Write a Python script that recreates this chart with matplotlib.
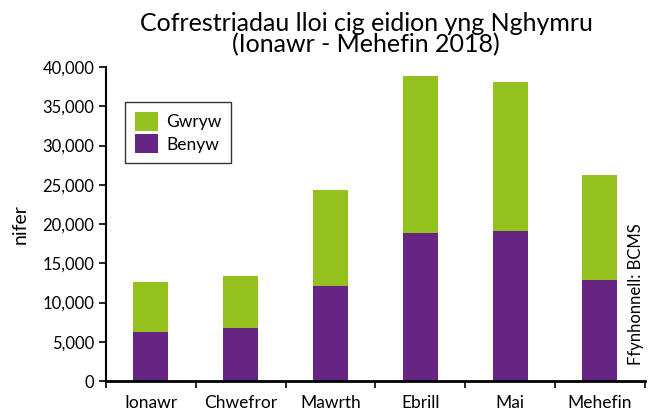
import matplotlib.pyplot as plt
import numpy as np
from matplotlib.ticker import FuncFormatter, FixedLocator

# data
months = ['Ionawr', 'Chwefror', 'Mawrth', 'Ebrill', 'Mai', 'Mehefin']
benyw = [6200, 6700, 12100, 18900, 19100, 12900]
gwryw = [6400, 6700, 12200, 20000, 19000, 13300]

plt.rcParams['font.family'] = ['Lato', 'DejaVu Sans']

fig = plt.figure(figsize=(6.48, 4.12), dpi=100)
ax = fig.add_axes([0.1636, 0.0752, 0.8314, 0.762])

x = np.arange(len(months))
ax.bar(x, benyw, width=0.39, color='#662483', label='Benyw')
ax.bar(x, gwryw, width=0.39, bottom=benyw, color='#95c11f', label='Gwryw')

ax.set_xlim(-0.5, len(months) - 0.5)
ax.set_ylim(0, 40000)
ax.set_yticks(range(0, 40001, 5000))
ax.yaxis.set_major_formatter(FuncFormatter(lambda v, p: f'{int(v):,}'))
ax.set_xticks(x)
ax.set_xticklabels(months)
ax.tick_params(axis='x', which='major', length=0, labelsize=12.5, pad=10)
ax.xaxis.set_minor_locator(FixedLocator(np.arange(-0.5, len(months), 1.0)))
ax.tick_params(axis='x', which='minor', length=5, width=1.2, direction='out')
ax.tick_params(axis='y', length=5, width=1.2, labelsize=12)

for s in ['top', 'right']:
    ax.spines[s].set_visible(False)
ax.spines['left'].set_linewidth(1.5)
ax.spines['bottom'].set_linewidth(2)

ax.set_ylabel('nifer', fontsize=14, labelpad=10)

handles, labels = ax.get_legend_handles_labels()
leg = ax.legend(handles[::-1], labels[::-1], loc='upper left', bbox_to_anchor=(0.02, 0.915),
                fontsize=12.5, fancybox=False, edgecolor='black', handlelength=1.3,
                handleheight=1.3, borderpad=0.55, labelspacing=0.2, handletextpad=0.5)
leg.get_frame().set_linewidth(1)

fig.text(0.565, 0.972, 'Cofrestriadau lloi cig eidion yng Nghymru\n(Ionawr - Mehefin 2018)',
         ha='center', va='top', fontsize=18, linespacing=0.92)
fig.text(0.982, 0.115, 'Ffynhonnell: BCMS', rotation=90, ha='center', va='bottom', fontsize=12)

fig.savefig('out.png', dpi=100)
